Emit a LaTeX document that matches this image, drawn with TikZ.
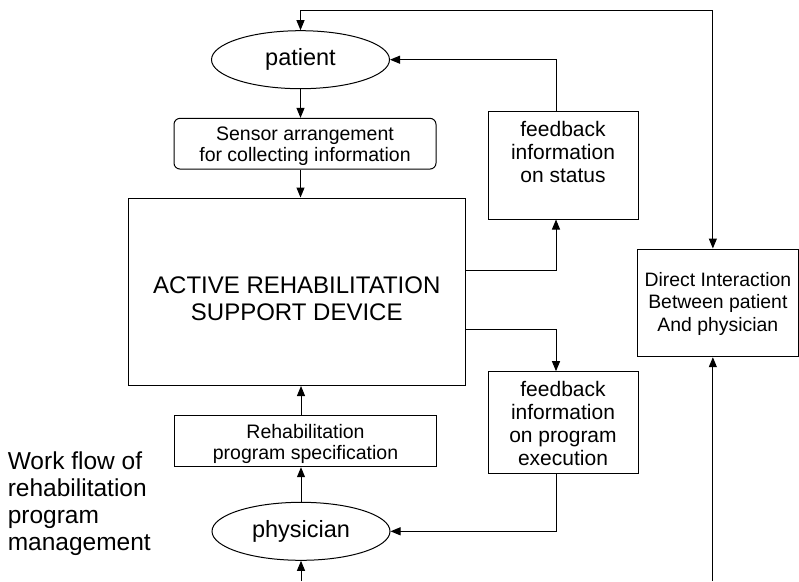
\documentclass[tikz,border=0pt]{standalone}
\usepackage{fontspec}
\setmainfont{Liberation Sans}
\usepackage{tikz}
\usetikzlibrary{arrows.meta, positioning, shapes.geometric}

\begin{document}
\begin{tikzpicture}[x=1pt, y=-1pt, line width=1pt,
  flow/.style={-{Triangle[length=10pt, width=8pt]}},
  actor/.style={draw, ellipse, minimum width=178pt, minimum height=58pt, inner sep=0pt,
    font=\fontsize{23.5}{26}\selectfont},
  stepbox/.style={draw, align=center, inner sep=0pt, minimum width=262pt,
    font=\fontsize{19.5}{21}\selectfont},
  infobox/.style={draw, align=center, inner sep=0pt, minimum width=150pt,
    font=\fontsize{21}{23.3}\selectfont}]
  \useasboundingbox (0,0) rectangle (799,581);
  \coordinate (topbar) at (0,10);
  \coordinate (bottom) at (0,581);
  % actors
  \node[actor] (patient) at (300.5,59.7) {patient};
  \node[actor] (physician) at (301,531.3) {physician};
  % main column
  \node[stepbox, rounded corners=6pt, text height=43.4pt, text depth=7.3pt]
    (sensor) at (305,143.7) {Sensor arrangement\\for collecting information};
  \node[draw, align=center, inner sep=0pt, minimum width=336.5pt, text height=122pt,
    text depth=65.5pt, font=\fontsize{24}{26.7}\selectfont]
    (device) at (296.75,291.75) {ACTIVE REHABILITATION\\SUPPORT DEVICE};
  \node[stepbox, text height=43.3pt, text depth=7.7pt]
    (spec) at (305.5,441.2) {Rehabilitation\\program specification};
  % feedback boxes
  \node[infobox, text height=71.6pt, text depth=36.4pt]
    (status) at (563,165) {feedback\\information\\on status};
  \node[infobox, text height=94.2pt, text depth=7.4pt]
    (execution) at (563,422.5) {feedback\\information\\on program\\execution};
  \node[draw, align=center, inner sep=0pt, minimum width=160.3pt, text height=82pt,
    text depth=25.7pt, font=\fontsize{19.4}{22.5}\selectfont]
    (direct) at (717.85,302.85) {Direct Interaction\\Between patient\\And physician};
  \node[anchor=base west, align=left, inner sep=0pt, font=\fontsize{24.5}{26.7}\selectfont]
    (workflow) at (7.3,550) {Work flow of\\rehabilitation\\program\\management};
  % connector ends
  \coordinate (dtop) at ([xshift=-5pt]direct.north);
  \coordinate (dbot) at ([xshift=-5pt]direct.south);
  \coordinate (sttop) at ([xshift=-7pt]status.north);
  \coordinate (stbot) at ([xshift=-7pt]status.south);
  \coordinate (extop) at ([xshift=-7pt]execution.north);
  \coordinate (exbot) at ([xshift=-7pt]execution.south);
  \coordinate (devup) at ([yshift=21.75pt]device.east);
  \coordinate (devdown) at ([yshift=-37.25pt]device.east);
  % direct interaction loop
  \draw[flow] (dtop |- topbar) -- (patient.north |- topbar) -- (patient.north);
  \draw[flow] (dtop |- topbar) -- (dtop);
  \draw[flow] (dbot |- bottom) -- (dbot);
  % main flow
  \draw[flow] (patient.south) -- (patient.south |- sensor.north);
  \draw[flow] (patient.south |- sensor.south) -- (patient.south |- device.north);
  \draw[flow] (physician.north) -- (physician.north |- spec.south);
  \draw[flow] (physician.north |- spec.north) -- (physician.north |- device.south);
  \draw[flow] (physician.south |- bottom) -- (physician.south);
  % feedback
  \draw[flow] (devup) -| (stbot);
  \draw[flow] (sttop) |- (patient.east);
  \draw[flow] (devdown) -| (extop);
  \draw[flow] (exbot) |- (physician.east);
\end{tikzpicture}
\end{document}
